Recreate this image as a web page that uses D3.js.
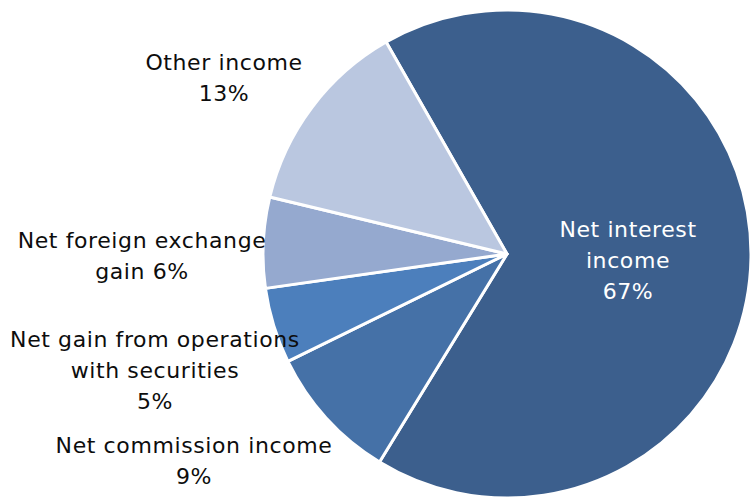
<!DOCTYPE html>
<html>
<head>
<meta charset="utf-8">
<script src="https://cdn.jsdelivr.net/npm/d3@7"></script>
<style>
  html, body { margin: 0; padding: 0; background: #ffffff; }
  svg { display: block; }
  text { font-family: "DejaVu Sans", Verdana, sans-serif; font-size: 22px; letter-spacing: 0.6px; }
</style>
</head>
<body>
<svg id="chart" width="750" height="501"></svg>
<script>
// Income structure
const categories = [
  "Net interest income",
  "Net commission income",
  "Net gain from operations with securities",
  "Net foreign exchange gain",
  "Other income"
];
const shares = [67, 9, 5, 6, 13];
const sliceColors = ["#3c5f8d", "#4571a7", "#4c7fbc", "#95a9cf", "#bac7e0"];

// Label lines per category (last line carries the percentage)
const labelLines = [
  ["Net interest", "income", "67%"],
  ["Net commission income", "9%"],
  ["Net gain from operations", "with securities", "5%"],
  ["Net foreign exchange", "gain 6%"],
  ["Other income", "13%"]
];

const width = 750, height = 501;
const cx = 507, cy = 254, radius = 244;
const startDeg = -29.7;

const svg = d3.select("#chart");
const g = svg.append("g").attr("transform", `translate(${cx},${cy})`);

const pie = d3.pie()
  .sort(null)
  .value(d => d)
  .startAngle(startDeg * Math.PI / 180)
  .endAngle(startDeg * Math.PI / 180 + 2 * Math.PI);

const arc = d3.arc().innerRadius(0).outerRadius(radius);
const arcs = pie(shares);

g.selectAll("path.slice")
  .data(arcs)
  .join("path")
  .attr("class", "slice")
  .attr("d", arc)
  .attr("fill", (d, i) => sliceColors[i])
  .attr("stroke", "#ffffff")
  .attr("stroke-width", 3)
  .attr("stroke-linejoin", "round");

// Label anchors in page coordinates: [center x, first baseline y]
const labelAnchors = [
  [628, 237],
  [194, 453],
  [155, 347],
  [142, 248],
  [224, 70]
];
const lineStep = 31;

const labels = svg.append("g").attr("class", "labels");
labelLines.forEach((lines, i) => {
  const [x, y] = labelAnchors[i];
  const t = labels.append("text")
    .attr("text-anchor", "middle")
    .attr("fill", i === 0 ? "#ffffff" : "#0d0d0d");
  lines.forEach((line, k) => {
    t.append("tspan")
      .attr("x", x)
      .attr("y", y + k * lineStep)
      .text(line);
  });
});
</script>
</body>
</html>
